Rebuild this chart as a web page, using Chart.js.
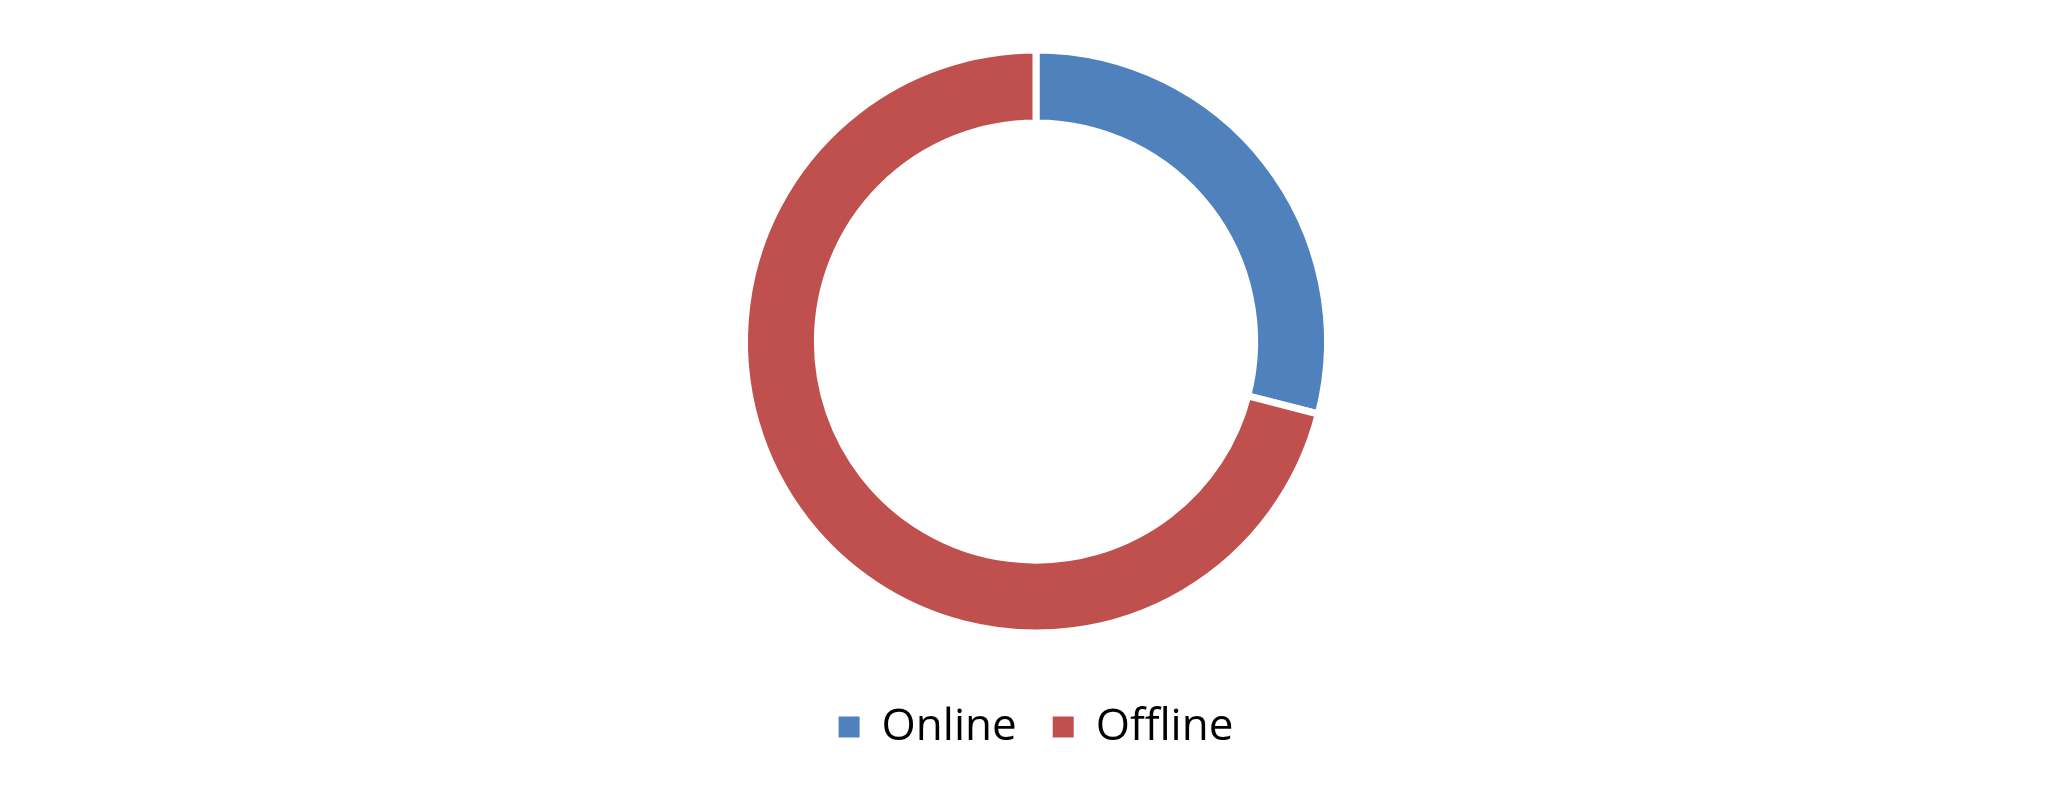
<!DOCTYPE html>
<html>
<head>
<meta charset="utf-8">
<script src="https://cdn.jsdelivr.net/npm/chart.js@4/dist/chart.umd.min.js"></script>
<style>
  html, body { margin: 0; padding: 0; background: #fff; }
  #wrap { width: 2072px; height: 800px; }
</style>
</head>
<body>
<div id="wrap"><canvas id="myChart"></canvas></div>
<script>
const labels = ["Online", "Offline"];
const shares = [29, 71];
const colors = ["#4F81BD", "#C0504D"];

const ctx = document.getElementById('myChart');

const chartData = {
  labels: labels,
  datasets: [
    {
      data: shares,
      backgroundColor: colors,
      borderColor: "#ffffff",
      borderWidth: 7,
      radius: 291.5,
      cutout: '75%'
    },
  ],
};

// legend boxes without the white slice border
const baseLabels = Chart.overrides.doughnut.plugins.legend.labels.generateLabels;

const config = {
  type: 'doughnut',
  data: chartData,
  options: {
    responsive: true,
    maintainAspectRatio: false,
    animation: false,
    layout: { padding: { top: 14, bottom: 41 } },
    plugins: {
      tooltip: { enabled: false },
      legend: {
        position: 'bottom',
        labels: {
          boxWidth: 21,
          boxHeight: 21,
          padding: 36,
          color: '#000',
          font: { family: '"Open Sans", sans-serif', size: 44 },
          generateLabels: (chart) => baseLabels(chart).map(l => ({ ...l, lineWidth: 0 }))
        }
      }
    }
  },
};

const myChart = new Chart(ctx, config);
</script>
</body>
</html>
